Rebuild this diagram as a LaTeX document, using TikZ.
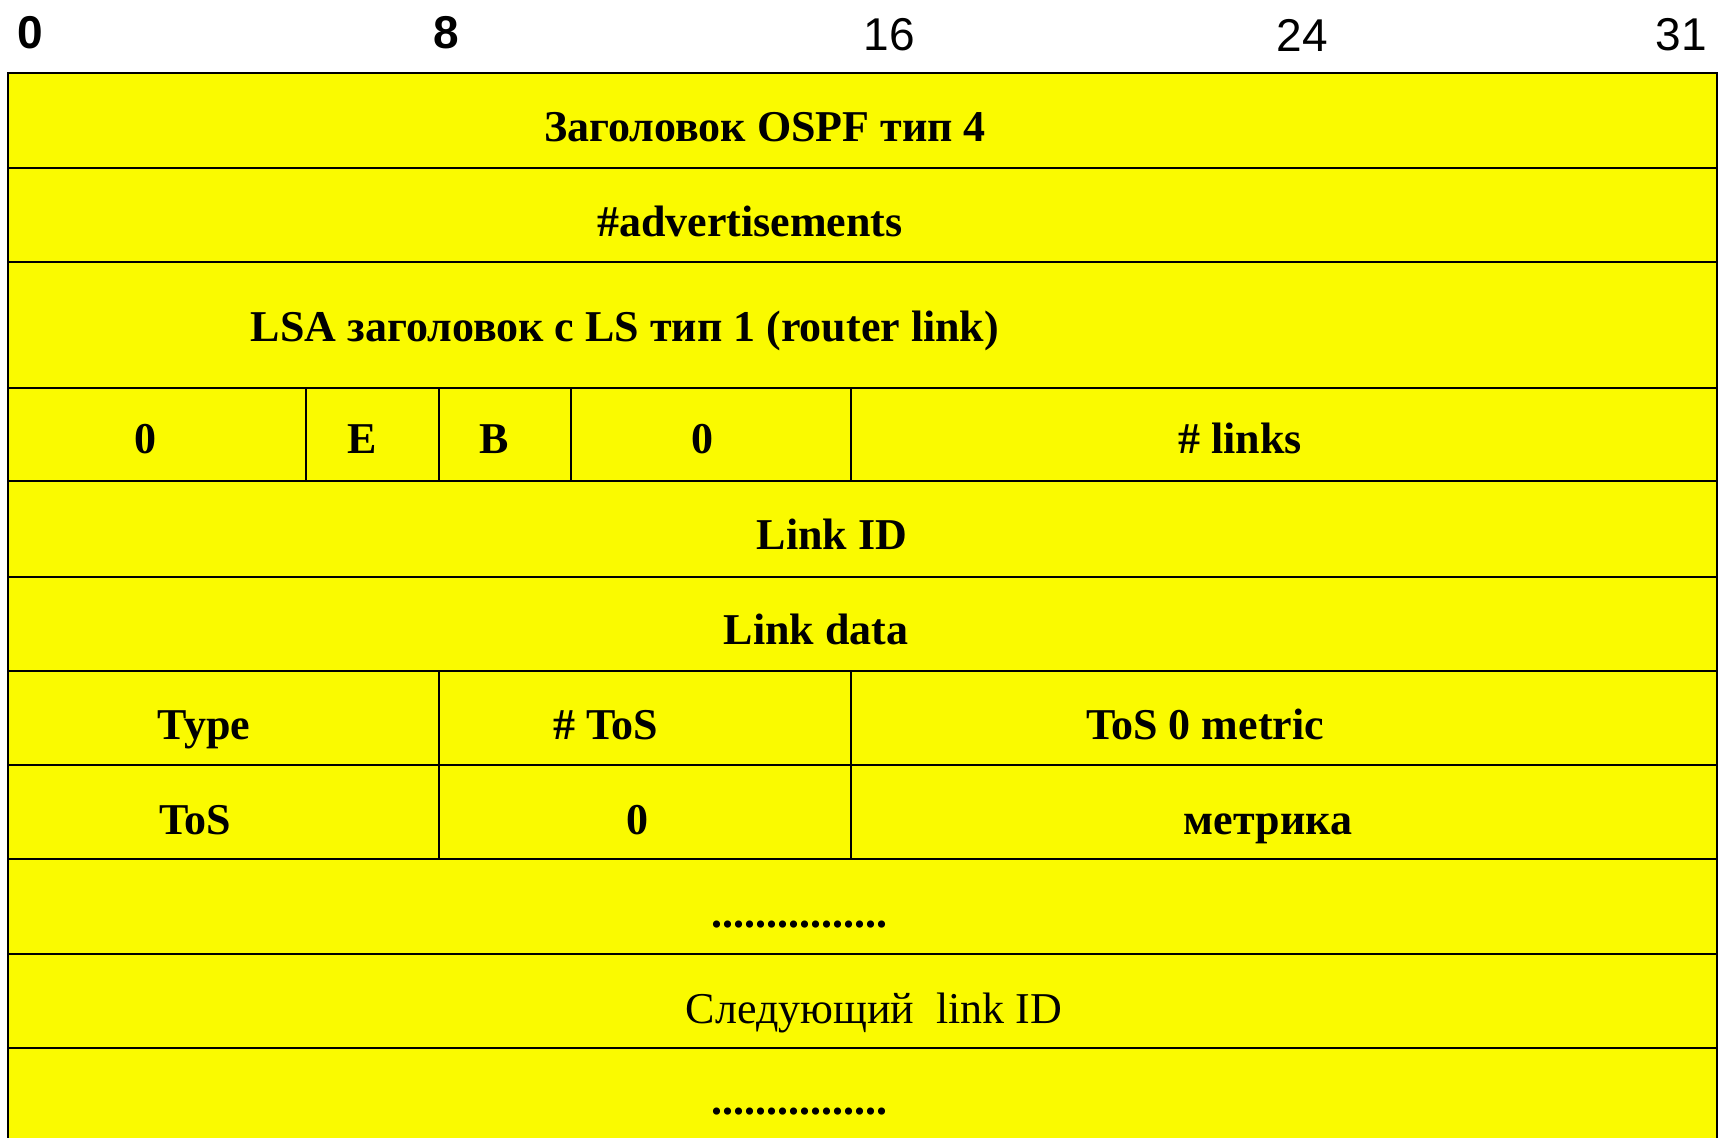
\documentclass[tikz,border=0pt]{standalone}
\usepackage{fontspec}
\setmainfont{Liberation Serif}
\newfontfamily\bitsfont{Liberation Sans}
\usetikzlibrary{positioning}
\definecolor{fieldyellow}{RGB}{250,250,0}

\begin{document}
\begin{tikzpicture}[x=0.5pt,y=-0.5pt,
  field/.style={font=\fontsize{22}{26}\selectfont\bfseries,text height=15pt,text depth=0pt},
  plainfield/.style={font=\fontsize{22}{26}\selectfont,text height=15pt,text depth=0pt},
  bit/.style={font=\bitsfont\fontsize{23}{27}\selectfont},
  rowline/.style={line width=1.2pt},
  sepline/.style={line width=0.8pt}]
\useasboundingbox (0,0) rectangle (1719,1138);
\fill[fieldyellow] (8,73) rectangle (1717,1138);
\draw[line width=1pt] (8,1138)--(8,73)--(1717,73)--(1717,1138);
\foreach \y in {168,262,388,481,577,671,765,859,954,1048}
  \draw[rowline] (8,\y)--(1717,\y);
% flags row
\foreach \x in {306,439,571,851}
  \draw[sepline] (\x,388)--(\x,481);
% type / tos rows
\foreach \x in {439,851}
  \draw[sepline] (\x,671)--(\x,859);
% bit numbers
\node[bit,font=\bitsfont\fontsize{23}{27}\selectfont\bfseries] (b0) at (30,33) {0};
\node[bit,font=\bitsfont\fontsize{23}{27}\selectfont\bfseries] (b8) at (446,33) {8};
\node[bit] (b16) at (889,35) {16};
\node[bit] (b24) at (1302,35) {24};
\node[bit] (b31) at (1681,35) {31};
% fields
\node[field] (hdr) at (765,127) {Заголовок OSPF тип 4};
\node[field] (adv) at (750,222) {\#advertisements};
\node[field] (lsa) at (625,327) {LSA заголовок с LS тип 1 (router link)};
\node[field] (zeroa) at (145,439) {0};
\node[field] (eflag) at (362,439) {E};
\node[field] (bflag) at (494,439) {B};
\node[field] (zerob) at (702,439) {0};
\node[field] (links) at (1240,439) {\# links};
\node[field] (linkid) at (832,535) {Link ID};
\node[field] (linkdata) at (816,630) {Link data};
\node[field] (type) at (204,725) {Type};
\node[field] (ntos) at (606,725) {\# ToS};
\node[field] (metric) at (1205,725) {ToS 0 metric};
\node[field] (tos) at (195,819) {ToS};
\node[field] (zeroc) at (637,819) {0};
\node[field] (metr) at (1268,819) {метрика};
\node[field] (dotsa) at (799,912) {................};
\node[plainfield] (nextid) at (874,1008) {Следующий\ \ link ID};
\node[field] (dotsb) at (799,1099) {................};
\end{tikzpicture}
\end{document}
